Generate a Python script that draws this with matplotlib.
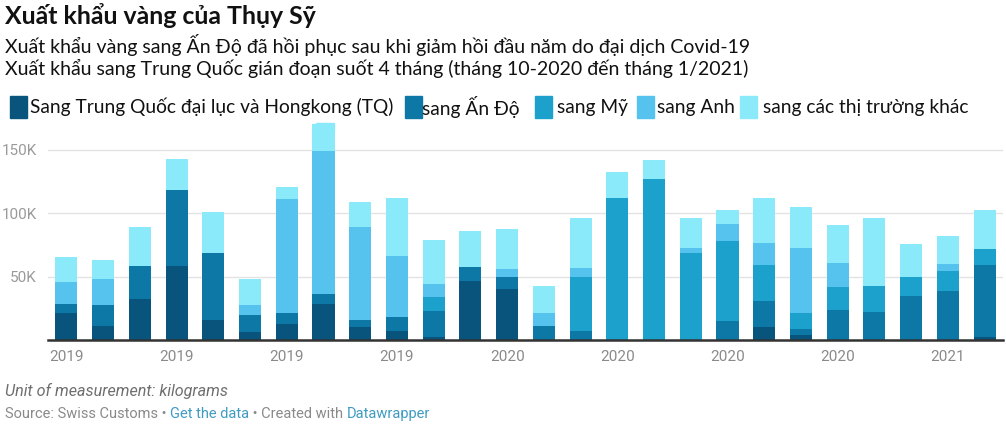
import matplotlib.pyplot as plt
from matplotlib.patches import Rectangle

# monthly gold exports, thousand kg (Jan 2019 .. Feb 2021)
months = ['2019-01', '2019-02', '2019-03', '2019-04', '2019-05', '2019-06', '2019-07',
          '2019-08', '2019-09', '2019-10', '2019-11', '2019-12', '2020-01', '2020-02',
          '2020-03', '2020-04', '2020-05', '2020-06', '2020-07', '2020-08', '2020-09',
          '2020-10', '2020-11', '2020-12', '2021-01', '2021-02']
tq    = [21.6, 11.3, 32.6, 58.4, 15.8, 6.3, 12.6, 28.4, 10.5, 7.4, 2.6, 46.3, 40.0,
         0, 0, 0, 0, 0, 0, 10.0, 3.9, 0, 0, 0, 0, 2.6]
india = [6.6, 16.1, 25.8, 59.7, 53.1, 13.2, 8.4, 7.9, 5.3, 10.5, 20.5, 11.6, 9.4,
         11.3, 7.1, 0, 0, 0, 14.7, 20.5, 5.0, 23.7, 22.1, 34.7, 38.9, 56.3]
us    = [0, 0, 0, 0, 0, 0, 0, 0, 0, 0, 10.6, 0, 0,
         0, 42.3, 112.0, 127.3, 68.4, 63.1, 28.4, 12.7, 18.4, 20.5, 14.7, 15.8, 12.6]
uk    = [17.8, 21.0, 0, 0, 0, 7.9, 90.0, 112.6, 73.6, 48.4, 10.5, 0, 6.4,
         9.7, 7.4, 0, 0, 4.2, 13.7, 17.9, 51.0, 18.9, 0, 0, 5.3, 0]
other = [19.8, 14.7, 31.0, 24.4, 32.1, 21.0, 9.5, 21.5, 19.5, 45.5, 34.7, 28.4, 31.8,
         21.9, 39.2, 20.3, 14.7, 23.4, 11.1, 35.0, 32.6, 29.5, 53.4, 26.3, 22.1, 31.1]

series = [tq, india, us, uk, other]
labels = ['Sang Trung Quốc đại lục và Hongkong (TQ)', 'sang Ấn Độ', 'sang Mỹ',
          'sang Anh', 'sang các thị trường khác']
colors = ['#08547c', '#0d78a6', '#1ca0cc', '#56c3ee', '#8aeafa']

tick_idx = [0, 3, 6, 9, 12, 15, 18, 21, 24]
tick_labels = ['2019', '2019', '2019', '2019', '2020', '2020', '2020', '2020', '2021']
yticks = [50, 100, 150]
ytick_labels = ['50K', '100K', '150K']

title = 'Xuất khẩu vàng của Thụy Sỹ'
sub1 = 'Xuất khẩu vàng sang Ấn Độ đã hồi phục sau khi giảm hồi đầu năm do đại dịch Covid-19'
sub2 = 'Xuất khẩu sang Trung Quốc gián đoạn suốt 4 tháng (tháng 10-2020 đến tháng 1/2021)'

W, H = 1006, 430
fig = plt.figure(figsize=(W / 100, H / 100), dpi=100)
renderer = fig.canvas.get_renderer()


def fx(x):
    return x / W


def fy(y):
    return 1 - y / H


def fit(t, width):
    # shrink/grow font so the text spans the given pixel width
    w = t.get_window_extent(renderer).width
    t.set_fontsize(t.get_fontsize() * width / w)


head_font = ['Lato', 'DejaVu Sans']
body_font = ['Roboto', 'DejaVu Sans']

ax = fig.add_axes([fx(48), fy(340), fx(1003) - fx(48), fy(122) - fy(340)])

x = list(range(len(months)))
bottom = [0] * len(months)
for vals, c in zip(series, colors):
    ax.bar(x, vals, bottom=bottom, width=0.6, color=c, linewidth=0, zorder=2)
    bottom = [b + v for b, v in zip(bottom, vals)]

ax.set_xlim(-0.5, 25.5)
ax.set_ylim(0, 172)
for s in ['top', 'right', 'left']:
    ax.spines[s].set_visible(False)
ax.spines['bottom'].set_color('#333333')
ax.spines['bottom'].set_linewidth(1.8)
ax.spines['bottom'].set_zorder(3)

ax.set_yticks(yticks)
ax.set_yticklabels(ytick_labels, fontfamily=body_font, fontsize=11, color='#9a9a9a')
ax.tick_params(axis='y', length=0, pad=8)
ax.grid(axis='y', color='#e3e3e3', linewidth=1, zorder=0)

ax.set_xticks(tick_idx)
ax.set_xticklabels(tick_labels, fontfamily=body_font, fontsize=11, color='#8a8a8a')
ax.tick_params(axis='x', length=0, pad=7)

# header
t = fig.text(fx(5), fy(16), title, fontfamily=head_font, fontweight='bold',
             fontsize=17, va='center', ha='left', color='#111111')
fit(t, 313)
t = fig.text(fx(5), fy(45), sub1, fontfamily=head_font, fontsize=14,
             va='center', ha='left', color='#111111')
fit(t, 747)
sub_size = t.get_fontsize()
fig.text(fx(5), fy(68), sub2, fontfamily=head_font, fontsize=sub_size,
         va='center', ha='left', color='#111111')

# legend drawn by hand
leg_sq = [10, 405, 535, 637, 740]
leg_tx = [30, 422, 557, 657, 763]
leg_size = None
for sx, tx, lab, c in zip(leg_sq, leg_tx, labels, colors):
    fig.patches.append(Rectangle((fx(sx), fy(118)), fx(17), 22 / H,
                                 transform=fig.transFigure, color=c, zorder=1))
    t = fig.text(fx(tx), fy(107), lab, fontfamily=head_font, fontsize=14,
                 va='center', ha='left', color='#111111')
    if leg_size is None:
        fit(t, 365)
        leg_size = t.get_fontsize()
    t.set_fontsize(leg_size)
fig.patches.append(Rectangle((fx(316), fy(131)), fx(18), 8 / H,
                             transform=fig.transFigure, color=colors[4], zorder=1))

# footer
t = fig.text(fx(5), fy(391), 'Unit of measurement: kilograms', fontfamily=body_font,
             fontstyle='italic', fontsize=11, color='#6f6f6f', va='center', ha='left')
fit(t, 223)

pieces = [('Source: Swiss Customs • ', '#8a8a8a'), ('Get the data', '#3f9bc2'),
          (' • Created with ', '#8a8a8a'), ('Datawrapper', '#3f9bc2')]
foot = [fig.text(fx(5), fy(418), p, fontfamily=body_font, fontsize=10.5, color=c,
                 va='baseline', ha='left') for p, c in pieces]
# place the pieces right after each other
xpos = foot[0].get_window_extent(renderer).x1
for tt in foot[1:]:
    tt.set_position((xpos / W, fy(418)))
    xpos = tt.get_window_extent(renderer).x1

fig.savefig('out.png', dpi=100)
